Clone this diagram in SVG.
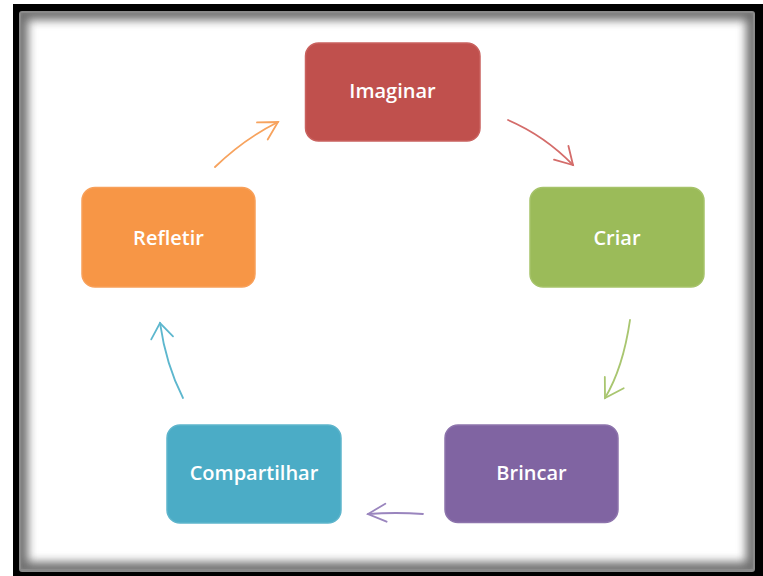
<svg xmlns="http://www.w3.org/2000/svg" width="763" height="576" viewBox="0 0 763 576">
<style>
.box{stroke-width:1.5}
.lbl{font-family:"Open Sans","DejaVu Sans",sans-serif;font-size:20px;font-weight:600;fill:#ffffff;text-anchor:middle}
.arr{fill:none;stroke-width:1.8;stroke-linecap:round}
</style>
<defs>
<clipPath id="innerClip"><rect x="21" y="13" width="732" height="556"/></clipPath>
<filter id="blur" x="-5%" y="-5%" width="110%" height="110%"><feGaussianBlur stdDeviation="5"/></filter>
<marker id="mR" markerUnits="userSpaceOnUse" markerWidth="30" markerHeight="30" refX="0" refY="0" viewBox="-20 -15 25 30" orient="auto"><path d="M-17,-10 L0,0 L-17,10" fill="none" stroke="#D46C6A" stroke-width="1.8" stroke-linecap="round"/></marker>
<marker id="mG" markerUnits="userSpaceOnUse" markerWidth="30" markerHeight="30" refX="0" refY="0" viewBox="-20 -15 25 30" orient="auto"><path d="M-18,-11 L0,0 L-18,11" fill="none" stroke="#A9C670" stroke-width="1.8" stroke-linecap="round"/></marker>
<marker id="mP" markerUnits="userSpaceOnUse" markerWidth="30" markerHeight="30" refX="0" refY="0" viewBox="-20 -15 25 30" orient="auto"><path d="M-18,-9 L0,0 L-18,9" fill="none" stroke="#9A85BE" stroke-width="1.8" stroke-linecap="round"/></marker>
<marker id="mC" markerUnits="userSpaceOnUse" markerWidth="30" markerHeight="30" refX="0" refY="0" viewBox="-20 -15 25 30" orient="auto"><path d="M-15,-11 L0,0 L-15,11" fill="none" stroke="#5DB7CE" stroke-width="1.8" stroke-linecap="round"/></marker>
<marker id="mO" markerUnits="userSpaceOnUse" markerWidth="30" markerHeight="30" refX="0" refY="0" viewBox="-20 -15 25 30" orient="auto"><path d="M-19,-9 L0,0 L-17,11" fill="none" stroke="#F7A35E" stroke-width="1.8" stroke-linecap="round"/></marker>
</defs>
<rect x="0" y="0" width="763" height="576" fill="#ffffff"/>
<g id="frame">
<rect x="13" y="4" width="750" height="572" fill="#000000"/>
<rect x="19" y="11" width="736" height="561" rx="3" fill="#8a8a8a"/>
<rect x="21" y="13" width="732" height="556" fill="#ffffff"/>
<g clip-path="url(#innerClip)">
<rect x="21" y="13" width="732" height="556" fill="none" stroke="#6e6e6e" stroke-width="14" filter="url(#blur)"/>
</g>
</g>
<g id="connectors">
<path class="arr" stroke="#D46C6A" d="M508,120 Q545,136 573,165" marker-end="url(#mR)"/>
<path class="arr" stroke="#A9C670" d="M630,320 Q623,368 605,398" marker-end="url(#mG)"/>
<path class="arr" stroke="#9A85BE" d="M423,514 Q396,512 368,514" marker-end="url(#mP)"/>
<path class="arr" stroke="#5DB7CE" d="M183,398 Q166,365 160,323" marker-end="url(#mC)"/>
<path class="arr" stroke="#F7A35E" d="M215,167 Q244,139 278,122" marker-end="url(#mO)"/>
</g>
<g id="imaginar">
<rect class="box" x="305.5" y="43" width="174.5" height="98" rx="13" fill="#C0504D" stroke="#C9625F"/>
<text class="lbl" x="392.5" y="98">Imaginar</text>
</g>
<g id="criar">
<rect class="box" x="530" y="187.5" width="174" height="99.5" rx="13" fill="#9BBB59" stroke="#A6C36A"/>
<text class="lbl" x="617" y="245">Criar</text>
</g>
<g id="brincar">
<rect class="box" x="445" y="425" width="173" height="97.5" rx="13" fill="#8064A2" stroke="#8D74AC"/>
<text class="lbl" x="531.5" y="480">Brincar</text>
</g>
<g id="compartilhar">
<rect class="box" x="167" y="425" width="174" height="98" rx="13" fill="#4BACC6" stroke="#5EB5CC"/>
<text class="lbl" x="254" y="480">Compartilhar</text>
</g>
<g id="refletir">
<rect class="box" x="82" y="187.5" width="173" height="99.5" rx="13" fill="#F79646" stroke="#F8A05A"/>
<text class="lbl" x="168.5" y="245">Refletir</text>
</g>
</svg>
